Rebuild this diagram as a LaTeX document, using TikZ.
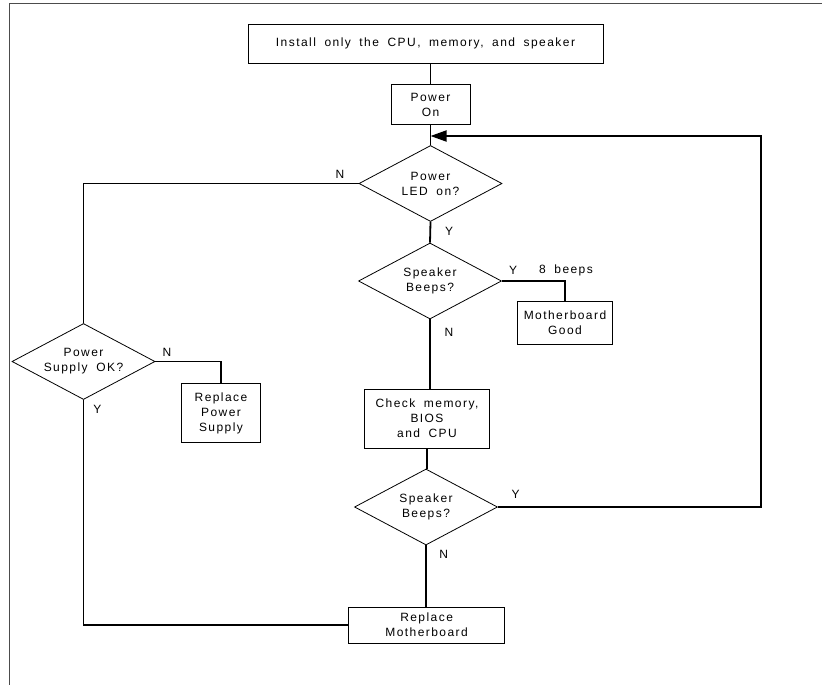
\documentclass[tikz,border=0pt]{standalone}
\usepackage{fontspec}
\setmainfont{Liberation Sans}[LetterSpace=12, WordSpace=1.8]
\usetikzlibrary{shapes.geometric,arrows.meta}
\tikzset{
	block/.style    = {draw, line width=0.8pt, rectangle, align=center, inner sep=0pt},
	decision/.style = {draw, line width=0.8pt, diamond, aspect=1.9, align=center,
		inner sep=0pt, minimum width=143pt, minimum height=76pt},
	tag/.style      = {inner sep=0pt}
}

\begin{document}
\begin{tikzpicture}[x=1pt, y=-1pt, line width=1.8pt, >={Triangle[length=16pt,width=11pt]},
	font=\fontsize{12}{15}\selectfont]
	
	\useasboundingbox (0,0) rectangle (822,685);
	\draw[line width=0.8pt, black!70] (9.5,685) -- (9.5,3.5) -- (822,3.5);
	
	\draw
	node at (425.5,43.5) [block, minimum width=355pt, minimum height=39pt] (install) {Install only the CPU, memory, and speaker}
	node at (430.5,104.5) [block, minimum width=79pt, minimum height=40pt] (pwron) {Power\\On}
	node at (430.5,183.5) [decision] (led) {Power\\LED on?}
	node at (430,281) [decision] (beep1) {Speaker\\Beeps?}
	node at (565,322.7) [block, minimum width=94.5pt, minimum height=42.6pt] (mbgood) {Motherboard\\Good}
	node at (83.5,361.5) [decision] (psok) {Power\\Supply OK?}
	node at (221,413) [block, minimum width=78.6pt, minimum height=58.4pt] (repps) {Replace\\Power\\Supply}
	node at (427,418.5) [block, minimum width=124.5pt, minimum height=59pt] (check) {Check memory,\\BIOS\\and CPU}
	node at (426,507) [decision] (beep2) {Speaker\\Beeps?}
	node at (426.6,625) [block, minimum width=156pt, minimum height=36pt] (repmb) {Replace\\Motherboard};
	
	\coordinate (jn) at (430.5,136);
	\coordinate (rc) at (761,136);
	
	\draw (install.south -| pwron) -- (pwron.north);
	\draw (pwron.south) -- (led.north);
	\draw[->] (beep2.east) -| (rc) -- (jn);
	\draw (led.west) -| (psok.north);
	\draw (led.south) -- (beep1.north);
	\draw (beep1.east) -| (mbgood.north);
	\draw (beep1.south) -- (beep1.south |- check.north);
	\draw (check.south) -- (check.south |- beep2.north);
	\draw (beep2.south) -- (beep2.south |- repmb.north);
	\draw (psok.east) -| (repps.north);
	\draw (psok.south) |- (repmb.west);
	
	\draw
	node at (340,174) [tag] (n1) {N}
	node at (449,231) [tag] (y1) {Y}
	node at (513,270.4) [tag] (y2) {Y}
	node at (566,270.4) [tag] (beeps) {8 beeps}
	node at (449,332.5) [tag] (n2) {N}
	node at (167,352) [tag] (n3) {N}
	node at (97.5,409) [tag] (y3) {Y}
	node at (515.5,494) [tag] (y4) {Y}
	node at (443.6,554.5) [tag] (n4) {N};
	
\end{tikzpicture}
\end{document}
